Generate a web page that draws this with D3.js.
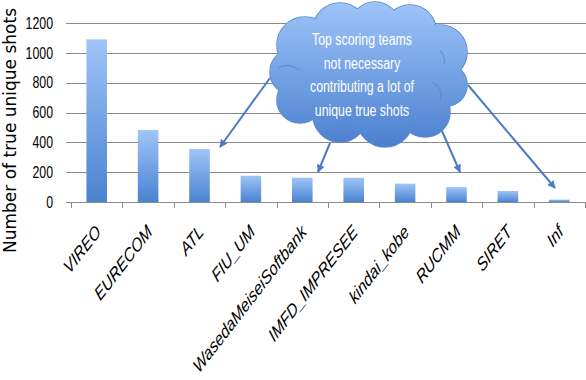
<!DOCTYPE html>
<html><head><meta charset="utf-8">
<script src="https://cdn.jsdelivr.net/npm/d3@7"></script>
<style>body{margin:0;background:#fff}svg{display:block}</style>
</head><body>
<svg id="chart" width="586" height="380"></svg>
<script>
const categories = ["VIREO","EURECOM","ATL","FIU_UM","WasedaMeiseiSoftbank","IMFD_IMPRESEE","kindai_kobe","RUCMM","SIRET","Inf"];
const uniqueShots = [1090, 483, 355, 176, 163, 162, 123, 100, 74, 16];
const yTicks = [0, 200, 400, 600, 800, 1000, 1200];
const yTitle = "Number of true unique shots";
const calloutLines = ["Top scoring teams", "not necessary", "contributing a lot of", "unique true shots"];
const arrowTargets = ["ATL", "WasedaMeiseiSoftbank", "RUCMM", "Inf"];

const squeeze = 0.77;
const svg = d3.select("#chart");
const x = d3.scaleBand().domain(categories).range([71, 585]).paddingInner(0.6).paddingOuter(0.3);
const y = d3.scaleLinear().domain([0, 1200]).range([202, 23]);
const step = x.step();

const defs = svg.append("defs");
const bg = defs.append("linearGradient").attr("id","barGrad").attr("x1",0).attr("y1",0).attr("x2",0).attr("y2",1);
bg.append("stop").attr("offset","0%").attr("stop-color","#9fc4f8");
bg.append("stop").attr("offset","100%").attr("stop-color","#4a83d1");
const cg = defs.append("linearGradient").attr("id","cloudGrad").attr("gradientUnits","userSpaceOnUse")
  .attr("x1",0).attr("y1",5).attr("x2",0).attr("y2",148);
cg.append("stop").attr("offset","0%").attr("stop-color","#9cc3f8");
cg.append("stop").attr("offset","100%").attr("stop-color","#4a7fcf");
defs.append("marker").attr("id","arrowHead").attr("viewBox","0 0 10 10").attr("refX",9).attr("refY",5)
  .attr("markerWidth",4).attr("markerHeight",4).attr("orient","auto")
  .append("path").attr("d","M0,0L10,5L0,10z").attr("fill","#4a7cc4");

// gridlines
svg.append("g").selectAll("line").data(yTicks).join("line")
  .attr("x1",66).attr("x2",586).attr("y1",d=>Math.round(y(d))+0.5).attr("y2",d=>Math.round(y(d))+0.5)
  .attr("stroke","#8a8a8a").attr("stroke-width",1);

// x ticks at category boundaries
const bounds = categories.map(c => x(c) - (step - x.bandwidth())/2).concat([585]);
svg.append("g").selectAll("line").data(bounds).join("line")
  .attr("x1",d=>Math.round(d)+0.5).attr("x2",d=>Math.round(d)+0.5).attr("y1",202).attr("y2",208)
  .attr("stroke","#8a8a8a");

// y tick labels
svg.append("g").selectAll("text").data(yTicks).join("text")
  .attr("transform",d=>`translate(53,${y(d)}) scale(${squeeze},1)`)
  .attr("dy","0.36em").attr("text-anchor","end")
  .attr("font-family","'Liberation Sans',Arial,sans-serif")
  .attr("font-size",16).attr("fill","#000").text(d=>d);

// y title
svg.append("text").attr("transform","translate(16,130.5) rotate(-90)").attr("text-anchor","middle")
  .attr("font-family","'DejaVu Sans',sans-serif").attr("font-size",17).attr("fill","#000").text(yTitle);

// bars
svg.append("g").selectAll("rect").data(categories).join("rect")
  .attr("x",d=>x(d)).attr("width",x.bandwidth())
  .attr("y",(d,i)=>y(uniqueShots[i])).attr("height",(d,i)=>y(0)-y(uniqueShots[i]))
  .attr("fill","url(#barGrad)");

// x labels
svg.append("g").selectAll("text").data(categories).join("text")
  .attr("transform",d=>`translate(${x(d)+x.bandwidth()/2+5},233) scale(${squeeze},1) rotate(-45)`)
  .attr("text-anchor","end").attr("font-family","'Liberation Sans',Arial,sans-serif")
  .attr("font-style","italic").attr("font-size",19).attr("fill","#000").text(d=>d);

// arrows from cloud to bars
const arrowStarts = [[270,78],[330,143],[438,122],[468,85]];
const arrowEnds = [[220,147],[318,172],[460,172],[555,188]];
svg.append("g").selectAll("line").data(arrowTargets).join("line")
  .attr("x1",(d,i)=>arrowStarts[i][0]).attr("y1",(d,i)=>arrowStarts[i][1])
  .attr("x2",(d,i)=>arrowEnds[i][0]).attr("y2",(d,i)=>arrowEnds[i][1])
  .attr("stroke","#4a7cc4").attr("stroke-width",2).attr("marker-end","url(#arrowHead)");

// cloud
const puffs = [[305,45,28],[340,30,27],[375,27,25],[410,31,26],[440,52,27],[446,85,21],[425,112,25],[385,119,28],[340,115,27],[300,100,23],[293,72,23]];
const cloud = svg.append("g");
cloud.selectAll("circle.o").data(puffs).join("circle").attr("class","o")
  .attr("cx",d=>d[0]).attr("cy",d=>d[1]).attr("r",d=>d[2]).attr("fill","none").attr("stroke","#5b89cc").attr("stroke-width",1.6);
cloud.selectAll("circle.f").data(puffs).join("circle").attr("class","f")
  .attr("cx",d=>d[0]).attr("cy",d=>d[1]).attr("r",d=>d[2]).attr("fill","url(#cloudGrad)");
cloud.append("ellipse").attr("cx",370).attr("cy",76).attr("rx",80).attr("ry",52).attr("fill","url(#cloudGrad)");
cloud.selectAll("path").data(["M278,68 Q288,62 300,70","M432,82 Q444,88 440,102","M330,135 Q335,125 345,122","M405,137 Q412,128 410,118","M440,50 Q446,58 444,64"]).join("path")
  .attr("d",d=>d).attr("fill","none").attr("stroke","#5b89cc").attr("stroke-width",1);
cloud.selectAll("text").data(calloutLines).join("text")
  .attr("transform",(d,i)=>`translate(362,${45+i*23.5}) scale(${squeeze},1)`).attr("text-anchor","middle")
  .attr("font-family","'Liberation Sans',Arial,sans-serif")
  .attr("font-size",16).attr("fill","#fff").text(d=>d);
</script>
</body></html>
